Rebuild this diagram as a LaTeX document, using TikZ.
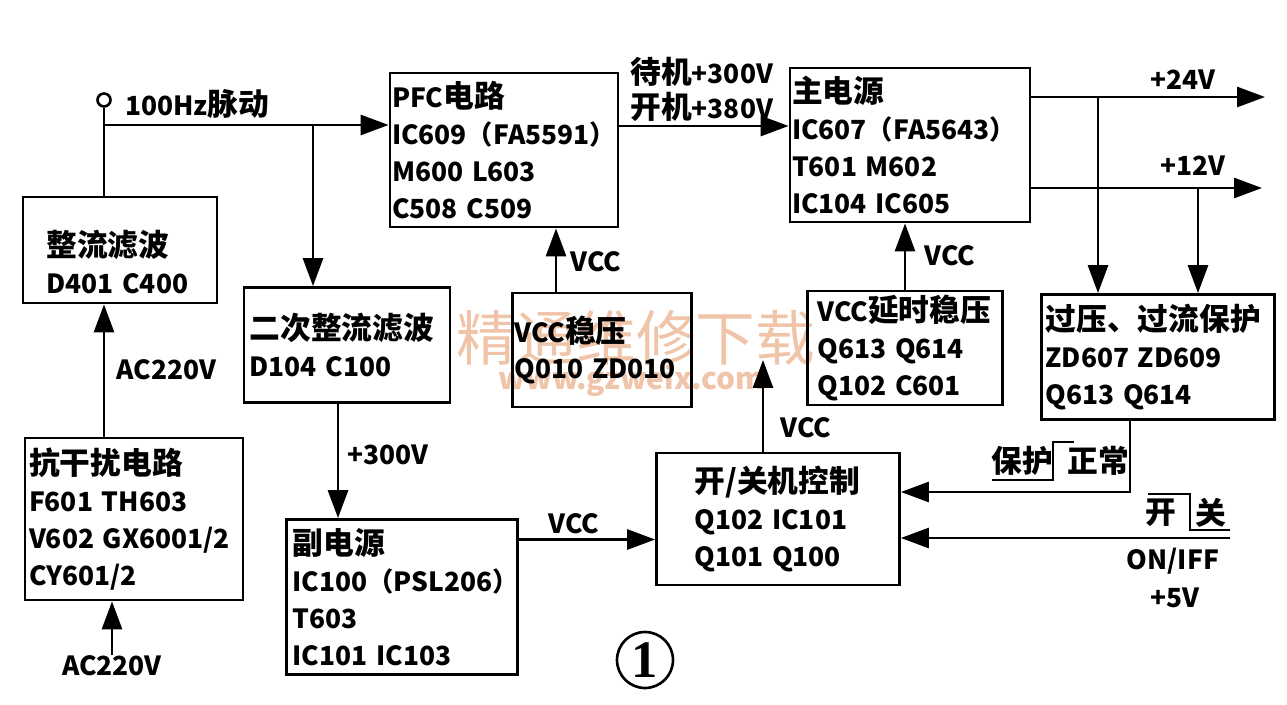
\documentclass[tikz,border=0pt]{standalone}
\usepackage{fontspec}
\setmainfont{Noto Sans CJK SC}
\newfontfamily\serifnum{Liberation Serif}
\newcommand\zh[1]{{\fontsize{17.5}{21}\selectfont #1}}
\usetikzlibrary{arrows.meta}

\begin{document}
\begin{tikzpicture}[x=0.02cm, y=-0.02cm,
    font=\bfseries\fontsize{15}{21}\selectfont,
    blk/.style={draw, line width=1.6pt, align=left, inner sep=0pt},
    arr/.style={line width=1.6pt, -{Triangle[length=0.56cm,width=0.4cm]}},
    wire/.style={line width=1.6pt},
    lbl/.style={inner sep=0pt},
    wmark/.style={color={rgb,255:red,240;green,196;blue,168}, inner sep=0pt}]
  \useasboundingbox (0,0) rectangle (1287,705);
  % watermark
  \node[wmark, font=\fontsize{34}{34}\selectfont] (wm1) at (636,338) {精通维修下载};
  \node[wmark, font=\bfseries\fontsize{17}{17}\selectfont] (wm2) at (632,381) {www.gzweix.com};
  % blocks
  \node[blk, minimum width=3.88cm, minimum height=2.12cm, text width=2.95cm] (zl) at (120,250)
    {\rule{0pt}{1cm}\zh{整流滤波}\\D401 C400};
  \node[blk, minimum width=4.36cm, minimum height=3.24cm, text width=4.2cm] (kg) at (134,519)
    {\zh{抗干扰电路}\\F601 TH603\\V602 GX6001/2\\CY601/2};
  \node[blk, minimum width=4.12cm, minimum height=2.30cm, text width=3.9cm] (ec) at (347,345)
    {\zh{二次整流滤波}\\D104 C100};
  \node[blk, minimum width=4.62cm, minimum height=3.10cm, text width=4.38cm] (fu) at (402,597)
    {\zh{副电源}\\IC100（PSL206）\\T603\\IC101 IC103};
  \node[blk, minimum width=4.56cm, minimum height=3.08cm, text width=4.48cm] (pfc) at (504,150)
    {PFC\zh{电路}\\IC609（FA5591）\\M600 L603\\C508 C509};
  \node[blk, minimum width=3.58cm, minimum height=2.28cm, text width=3.5cm] (wy) at (602,350)
    {VCC\zh{稳压}\\Q010 ZD010};
  \node[blk, minimum width=4.80cm, minimum height=3.08cm, text width=4.72cm] (zhu) at (910,145)
    {\zh{主电源}\\IC607（FA5643）\\T601 M602\\IC104 IC605};
  \node[blk, minimum width=3.90cm, minimum height=2.28cm, text width=3.5cm] (ys) at (905,348)
    {VCC\zh{延时稳压}\\Q613 Q614\\Q102 C601};
  \node[blk, minimum width=4.66cm, minimum height=2.50cm, text width=4.5cm] (bh) at (1158,357)
    {\zh{过压、过流保护}\\ZD607 ZD609\\Q613 Q614};
  \node[blk, minimum width=4.86cm, minimum height=2.64cm, text width=3.34cm] (kz) at (778,519)
    {\zh{开/关机控制}\\Q102 IC101\\Q101 Q100};
  % terminals and joints
  \node[draw, circle, line width=1.5pt, minimum size=0.26cm, inner sep=0pt] (t1) at (104,100) {};
  \coordinate (j1) at (104,125);
  \coordinate (j2) at (313,125);
  \coordinate (o24) at (1265,97);
  \coordinate (o12) at (1262,188);
  \coordinate (b1) at (1098,97);
  \coordinate (b2) at (1198,188);
  \coordinate (vo) at (763,360);
  \coordinate (p1) at (1130,492);
  \coordinate (on1) at (1230,538);
  % labels
  \node[lbl, anchor=west] (hz) at (125,104) {100Hz\zh{脉动}};
  \node[lbl] (ac1) at (112,666) {AC220V};
  \node[lbl, anchor=west] (ac2) at (116,370) {AC220V};
  \node[lbl, anchor=west] (st1) at (630,72) {\zh{待机}+300V};
  \node[lbl, anchor=west] (st2) at (630,107) {\zh{开机}+380V};
  \node[lbl, anchor=west] (v1) at (570,262) {VCC};
  \node[lbl, anchor=west] (v2) at (924,256) {VCC};
  \node[lbl, anchor=west] (v3) at (548,524) {VCC};
  \node[lbl, anchor=west] (v4) at (780,428) {VCC};
  \node[lbl, anchor=west] (u24) at (1150,80) {+24V};
  \node[lbl, anchor=west] (u12) at (1160,166) {+12V};
  \node[lbl, anchor=west] (u300) at (347,455) {+300V};
  \node[lbl] (bh1) at (1022,461) {\zh{保护}};
  \node[lbl] (bh2) at (1098,461) {\zh{正常}};
  \node[lbl] (sw1) at (1161,513) {\zh{开}};
  \node[lbl] (sw2) at (1211,513) {\zh{关}};
  \node[lbl] (onf) at (1173,561) {ON/IFF};
  \node[lbl] (p5) at (1175,598) {+5V};
  \node[draw, circle, line width=1.5pt, minimum size=1.12cm, inner sep=0pt,
    font=\serifnum\bfseries\fontsize{30}{30}\selectfont] (no1) at (645,660) {1};
  % connectors
  \draw[arr] (ac1.north) -- (ac1.north |- kg.south);
  \draw[arr] (t1 |- kg.north) -- (t1 |- zl.south);
  \draw[wire] (t1 |- zl.north) -- (t1.south);
  \draw[arr] (j1) -- (j1 -| pfc.west);
  \draw[arr] (j2) -- (j2 |- ec.north);
  \draw[arr] (pfc.east |- 0,126) -- (zhu.west |- 0,126);
  \draw[arr] ([xshift=-0.92cm]wy.north) -- ([xshift=-0.92cm]wy.north |- pfc.south);
  \draw[arr] (ys.north) -- (ys.north |- zhu.south);
  \draw[arr] (zhu.east |- o24) -- (o24);
  \draw[arr] (zhu.east |- o12) -- (o12);
  \draw[arr] (b1) -- (b1 |- bh.north);
  \draw[arr] (b2) -- (b2 |- bh.north);
  \draw[arr] ([xshift=-0.18cm]ec.south) -- ([xshift=-0.18cm]ec.south |- fu.north);
  \draw[arr] ([yshift=1.15cm]fu.east) -- ([yshift=1.15cm]fu.east -| kz.west);
  \draw[arr] (vo |- kz.north) -- (vo);
  \draw[arr] (p1 |- bh.south) -- (p1) -- (p1 -| kz.east);
  \draw[arr] (on1) -- (on1 -| kz.east);
  % level steps
  \draw[line width=1.2pt] (992,480) -- (1053,480) -- (1053,442) -- (1074,442);
  \draw[line width=1.2pt] (1148,494) -- (1190,494) -- (1190,530) -- (1230,530);
\end{tikzpicture}
\end{document}
